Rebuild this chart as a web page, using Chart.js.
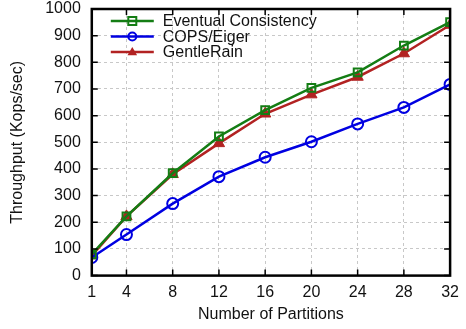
<!DOCTYPE html>
<html>
<head>
<meta charset="utf-8">
<script src="https://cdn.jsdelivr.net/npm/chart.js@4/dist/chart.umd.min.js"></script>
<style>
  html, body { margin: 0; padding: 0; background: #fff; }
  #wrap { width: 466px; height: 329px; }
</style>
</head>
<body>
<div id="wrap"><canvas id="myChart" width="466" height="329"></canvas></div>
<script>
// data
var partitions = [1, 4, 8, 12, 16, 20, 24, 28, 32];
var xTicks = [1, 4, 8, 12, 16, 20, 24, 28, 32];
var yTicks = [0, 100, 200, 300, 400, 500, 600, 700, 800, 900, 1000];
var eventual = [80, 222, 384, 522, 621, 704, 762, 863, 951];
var copsEiger = [68, 154, 270, 371, 444, 502, 569, 631, 717];
var gentleRain = [75, 222, 380, 496, 607, 679, 745, 833, 940];

var FONT = "'Liberation Sans', Arial, sans-serif";
var GREEN = "rgb(20,125,20)";
var BLUE = "rgb(0,0,225)";
var RED = "rgb(178,34,34)";

function pts(ys) {
	return partitions.map(function(x, i) { return { x: x, y: ys[i] }; });
}

// frame + inward ticks like gnuplot
var framePlugin = {
	id: 'frame',
	afterDraw: function(chart) {
		var c = chart.ctx, a = chart.chartArea;
		var xs = chart.scales.x, ys = chart.scales.y;
		c.save();
		c.strokeStyle = '#000';
		c.lineWidth = 1.5;
		xTicks.forEach(function(v) {
			var px = xs.getPixelForValue(v);
			c.beginPath();
			c.moveTo(px, a.bottom); c.lineTo(px, a.bottom - 6);
			c.moveTo(px, a.top); c.lineTo(px, a.top + 6);
			c.stroke();
		});
		yTicks.forEach(function(v) {
			var py = ys.getPixelForValue(v);
			c.beginPath();
			c.moveTo(a.left, py); c.lineTo(a.left + 6, py);
			c.moveTo(a.right, py); c.lineTo(a.right - 6, py);
			c.stroke();
		});
		c.lineWidth = 2.5;
		c.strokeRect(a.left, a.top, a.right - a.left, a.bottom - a.top);
		c.restore();
	}
};

function drawMarker(c, style, x, y, r, color) {
	c.strokeStyle = color;
	c.fillStyle = color;
	c.beginPath();
	if (style === 'rect') {
		c.rect(x - r, y - r, 2 * r, 2 * r);
		c.stroke();
	} else if (style === 'circle') {
		c.arc(x, y, r, 0, Math.PI * 2);
		c.stroke();
	} else {
		c.moveTo(x, y - r * 1.25);
		c.lineTo(x + r * 1.2, y + r * 0.8);
		c.lineTo(x - r * 1.2, y + r * 0.8);
		c.closePath();
		c.fill();
	}
}

// legend box top-left inside plot, line + marker samples
var legendPlugin = {
	id: 'gpLegend',
	afterDraw: function(chart) {
		var c = chart.ctx, a = chart.chartArea;
		c.save();
		c.font = '16px ' + FONT;
		c.textBaseline = 'middle';
		chart.data.datasets.forEach(function(ds, i) {
			var y = a.top + 12 + i * 15.5;
			var x0 = a.left + 19, x1 = a.left + 62;
			c.lineWidth = 2.5;
			c.strokeStyle = ds.borderColor;
			c.beginPath(); c.moveTo(x0, y); c.lineTo(x1, y); c.stroke();
			c.lineWidth = 2;
			drawMarker(c, ds.pointStyle, (x0 + x1) / 2, y, 4, ds.borderColor);
			c.fillStyle = '#111';
			c.fillText(ds.label, a.left + 71, y + 1);
		});
		c.restore();
	}
};

var ctx = document.getElementById('myChart');

var myChart = new Chart(ctx, {
	type: 'line',
	data: {
		datasets: [
			{
				label: 'Eventual Consistency',
				data: pts(eventual),
				borderColor: GREEN,
				backgroundColor: 'rgba(0,0,0,0)',
				pointStyle: 'rect',
				pointRadius: 5.5,
				pointBorderWidth: 2,
				borderWidth: 2.5
			},
			{
				label: 'COPS/Eiger',
				data: pts(copsEiger),
				borderColor: BLUE,
				backgroundColor: 'rgba(0,0,0,0)',
				pointStyle: 'circle',
				pointRadius: 5.5,
				pointBorderWidth: 2,
				borderWidth: 2.5
			},
			{
				label: 'GentleRain',
				data: pts(gentleRain),
				borderColor: RED,
				backgroundColor: RED,
				pointStyle: 'triangle',
				pointRadius: 6.5,
				pointBorderWidth: 1,
				borderWidth: 2.5
			}
		]
	},
	options: {
		responsive: false,
		animation: false,
		layout: { padding: { top: 9, right: 4, left: 2, bottom: 5 } },
		plugins: {
			legend: { display: false },
			tooltip: { enabled: false }
		},
		scales: {
			x: {
				type: 'linear',
				min: 1,
				max: 32,
				afterBuildTicks: function(axis) {
					axis.ticks = xTicks.map(function(v) { return { value: v }; });
				},
				grid: { color: '#c8c8c8', lineWidth: 1, drawTicks: false },
				border: { display: false, dash: [3, 3] },
				ticks: {
					color: '#111', font: { family: FONT, size: 16 }, padding: 7, maxRotation: 0,
					callback: function(v) { return String(v); }
				},
				title: { display: true, text: 'Number of Partitions', color: '#111', font: { family: FONT, size: 16 }, padding: { top: -4, bottom: 0 } }
			},
			y: {
				min: 0,
				max: 1000,
				afterBuildTicks: function(axis) {
					axis.ticks = yTicks.map(function(v) { return { value: v }; });
				},
				afterFit: function(axis) {
					axis.paddingTop = 0;
				},
				grid: { color: '#c8c8c8', lineWidth: 1, drawTicks: false },
				border: { display: false, dash: [3, 3] },
				ticks: {
					color: '#111', font: { family: FONT, size: 16 }, padding: 11,
					callback: function(v) { return String(v); }
				},
				title: { display: true, text: 'Throughput (Kops/sec)', color: '#111', font: { family: FONT, size: 16 }, padding: { top: 6, bottom: 7 } }
			}
		}
	},
	plugins: [framePlugin, legendPlugin]
});

console.log(JSON.stringify(myChart.chartArea));
</script>
</body>
</html>
